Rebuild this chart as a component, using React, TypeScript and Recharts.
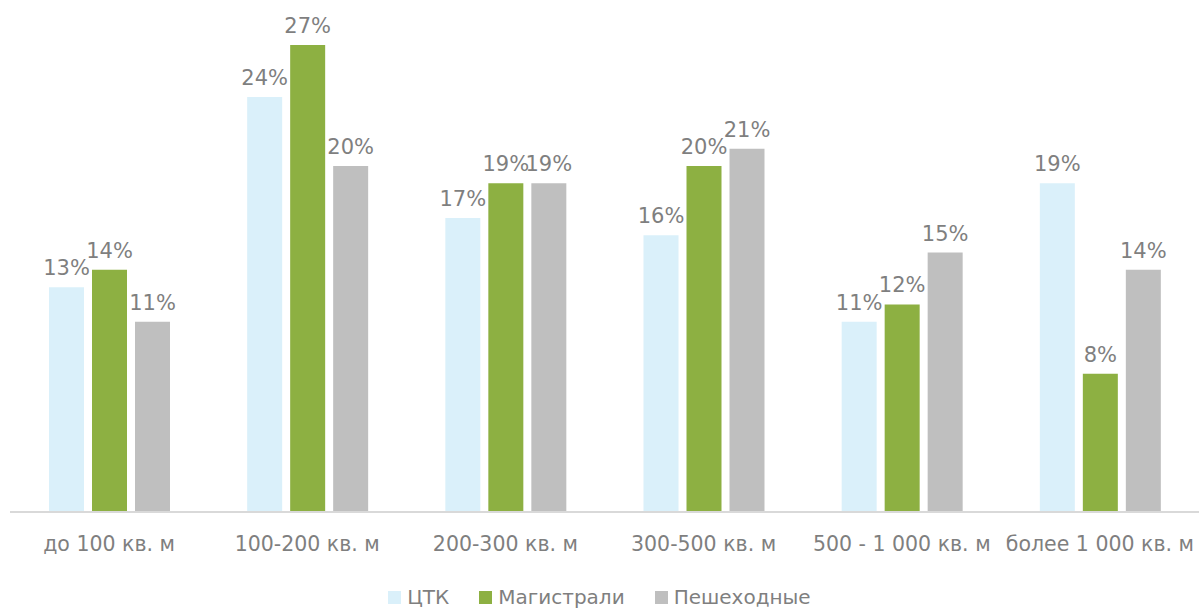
import React from 'react';
import { BarChart, Bar, XAxis, YAxis, LabelList } from 'recharts';

const categories = ['до 100 кв. м', '100-200 кв. м', '200-300 кв. м', '300-500 кв. м', '500 - 1 000 кв. м', 'более 1 000 кв. м'];
const ctk = [13, 24, 17, 16, 11, 19];
const magistrali = [14, 27, 19, 20, 12, 8];
const peshehodnye = [11, 20, 19, 21, 15, 14];

const series = [
  { key: 'ctk', name: 'ЦТК', color: '#daf0fa' },
  { key: 'mag', name: 'Магистрали', color: '#8db042' },
  { key: 'pesh', name: 'Пешеходные', color: '#bfbfbf' },
];

const data = categories.map((name, i) => ({
  name,
  ctk: ctk[i],
  mag: magistrali[i],
  pesh: peshehodnye[i],
}));

const FONT = '"DejaVu Sans", sans-serif';
const GRAY = '#7f7f7f';

const LegendRow = () => (
  <div
    style={{
      position: 'absolute',
      left: 0,
      top: 585,
      width: 1199,
      display: 'flex',
      justifyContent: 'center',
      gap: 30,
      fontFamily: FONT,
      fontSize: 20,
      color: GRAY,
    }}
  >
    {series.map(s => (
      <div key={s.key} style={{ display: 'flex', alignItems: 'center', gap: 6 }}>
        <span style={{ width: 13, height: 13, background: s.color, display: 'inline-block' }} />
        <span>{s.name}</span>
      </div>
    ))}
  </div>
);

export default function App() {
  return (
    <div style={{ position: 'absolute', left: 0, top: 0, width: 1199, height: 610, background: '#fff' }}>
      <BarChart
        width={1199}
        height={610}
        data={data}
        margin={{ top: 45, right: 0, bottom: 68, left: 10 }}
        barSize={35}
        barGap={8}
      >
        <XAxis
          dataKey="name"
          height={30}
          axisLine={{ stroke: '#d9d9d9', strokeWidth: 2 }}
          tickLine={false}
          tickMargin={18}
          interval={0}
          tick={{ fill: GRAY, fontSize: 20.5, fontFamily: FONT }}
        />
        <YAxis hide domain={[0, 27]} />
        {series.map(s => (
          <Bar key={s.key} dataKey={s.key} fill={s.color} isAnimationActive={false}>
            <LabelList
              dataKey={s.key}
              position="top"
              offset={12}
              formatter={(v: number) => `${v}%`}
              style={{ fill: GRAY, fontSize: 21, fontFamily: FONT }}
            />
          </Bar>
        ))}
      </BarChart>
      <LegendRow />
    </div>
  );
}
